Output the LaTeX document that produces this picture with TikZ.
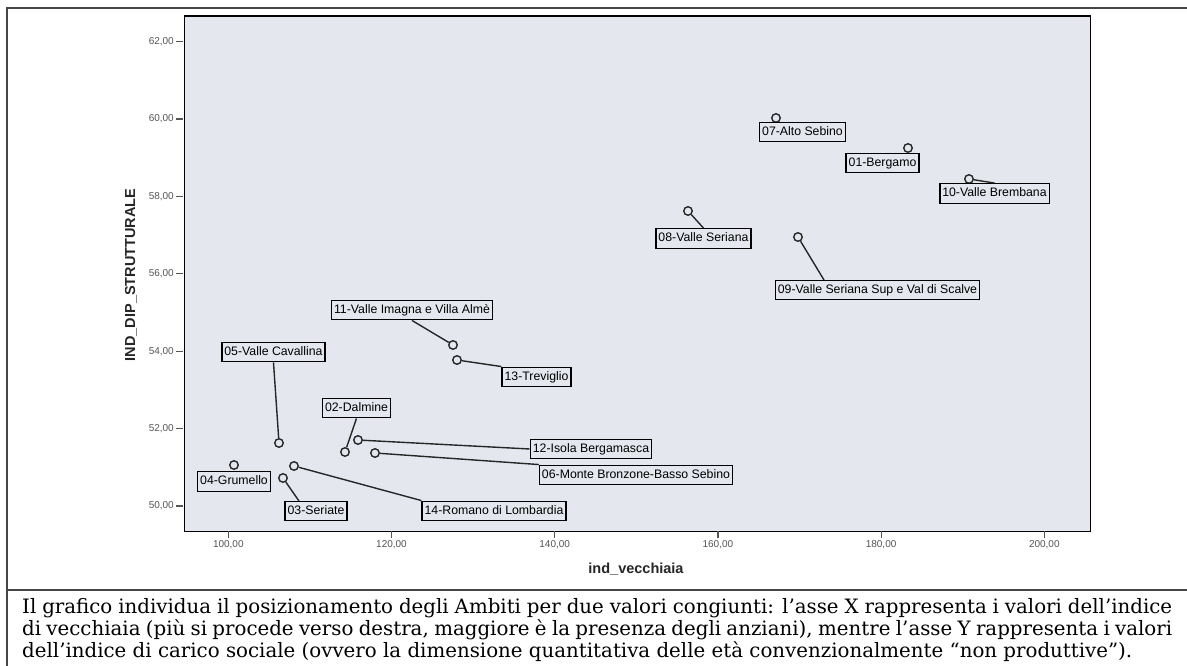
\documentclass[tikz,border=0pt]{standalone}
\usepackage{fontspec}
\setmainfont{DejaVu Serif}
\newfontfamily\arialf{Liberation Sans}
\definecolor{plotbg}{RGB}{228,232,238}
\definecolor{tickgray}{RGB}{85,85,85}
\definecolor{framegray}{RGB}{70,70,70}
\tikzset{
  lbl/.style={draw=black, line width=1.4pt, fill=plotbg,
    font=\arialf\fontsize{12.3}{14}\selectfont, inner xsep=2.5pt, inner ysep=0pt,
    minimum height=19.5pt, text height=9pt, text depth=2.5pt},
  pt/.style={circle, draw=black!85, line width=1.4pt, fill=plotbg,
    inner sep=0pt, minimum size=8.5pt},
  lead/.style={draw=black!85, line width=1.4pt},
  ytick/.style={anchor=east, font=\arialf\fontsize{10}{12}\selectfont,
    text=tickgray, inner sep=1pt},
  xtick/.style={anchor=north, font=\arialf\fontsize{10}{12}\selectfont,
    text=tickgray, inner sep=1pt},
  tickmark/.style={line width=1.2pt, draw=tickgray},
  axtitle/.style={font=\arialf\bfseries\fontsize{14.5}{16}\selectfont, text=black!85},
  capline/.style={anchor=base west, inner sep=0pt, font=\fontsize{19.8}{22}\selectfont},
  frameline/.style={line width=1.6pt, draw=framegray}
}
\begin{document}
\begin{tikzpicture}[x=1pt,y=-1pt]
\useasboundingbox (0,0) rectangle (1187,666);
\fill[white] (0,0) rectangle (1187,666);
% outer frame
\draw[frameline] (7,666) -- (7,8) -- (1187,8);
\draw[frameline] (7,590) -- (1187,590);
% plot area
\node[draw=black, line width=1.3pt, fill=plotbg, minimum width=906pt,
  minimum height=515pt, inner sep=0pt, anchor=north west] (plot) at (183.5,15.5) {};
% y ticks
\foreach \v/\y in {50/506,52/428.6,54/351.2,56/273.8,58/196.4,60/119,62/41.6}{
  \draw[tickmark] (176,\y) -- (183,\y);
  \node[ytick] (yt\v) at (175,\y) {\v,00};
}
% x ticks
\foreach \v/\x in {100/228.3,120/391.5,140/554.7,160/717.9,180/881.1,200/1044.3}{
  \draw[tickmark] (\x,531) -- (\x,538);
  \node[xtick] (xt\v) at (\x,539) {\v,00};
}
% axis titles
\node[axtitle] (xtitle) at (636,569) {ind\_vecchiaia};
\node[axtitle, rotate=90] (ytitle) at (131,275) {IND\_DIP\_STRUTTURALE};
% points
\node[pt] (p01) at (908,148) {};
\node[pt] (p02) at (345,452) {};
\node[pt] (p03) at (283,478) {};
\node[pt] (p04) at (234,465) {};
\node[pt] (p05) at (279,443) {};
\node[pt] (p06) at (375,453) {};
\node[pt] (p07) at (776,118) {};
\node[pt] (p08) at (688,211) {};
\node[pt] (p09) at (798,237) {};
\node[pt] (p10) at (969,179) {};
\node[pt] (p11) at (453,345) {};
\node[pt] (p12) at (358,440) {};
\node[pt] (p13) at (457,360) {};
\node[pt] (p14) at (294,466) {};
% labels
\node[lbl] (b07) at (802.5,132) {07-Alto Sebino};
\node[lbl] (b01) at (882.5,163) {01-Bergamo};
\node[lbl] (b10) at (994.5,193.5) {10-Valle Brembana};
\node[lbl] (b08) at (703.5,238.5) {08-Valle Seriana};
\node[lbl] (b09) at (877.5,290) {09-Valle Seriana Sup e Val di Scalve};
\node[lbl] (b11) at (412,310) {11-Valle Imagna e Villa Almè};
\node[lbl] (b13) at (536.5,377) {13-Treviglio};
\node[lbl] (b05) at (273.5,352) {05-Valle Cavallina};
\node[lbl] (b02) at (356.5,408) {02-Dalmine};
\node[lbl] (b12) at (591,449) {12-Isola Bergamasca};
\node[lbl] (b06) at (636,475) {06-Monte Bronzone-Basso Sebino};
\node[lbl] (b04) at (234,481.5) {04-Grumello};
\node[lbl] (b03) at (316,511) {03-Seriate};
\node[lbl] (b14) at (494,511) {14-Romano di Lombardia};
\coordinate (c03) at (299,501);
\coordinate (c09) at (824,280);
% leader lines
\draw[lead] (p10) -- (b10.north);
\draw[lead] (p08) -- (b08.north);
\draw[lead] (p09) -- (c09);
\draw[lead] (p11) -- (b11.south);
\draw[lead] (p13) -- (b13.north west);
\draw[lead] (p05) -- (b05.south);
\draw[lead] (p02) -- (b02.south);
\draw[lead] (p12) -- (b12.west);
\draw[lead] (p06) -- (b06.north west);
\draw[lead] (p03) -- (c03);
\draw[lead] (p14) -- (b14.north west);
% caption
\node[capline] (cap1) at (22,613) {\makebox[1150pt][s]{Il grafico individua il posizionamento degli Ambiti per due valori congiunti: l’asse X rappresenta i valori dell’indice}};
\node[capline] (cap2) at (22,635) {\makebox[1150pt][s]{di vecchiaia (più si procede verso destra, maggiore è la presenza degli anziani), mentre l’asse Y rappresenta i valori}};
\node[capline] (cap3) at (22,657) {dell’indice di carico sociale (ovvero la dimensione quantitativa delle età convenzionalmente “non produttive”).};
\end{tikzpicture}
\end{document}
